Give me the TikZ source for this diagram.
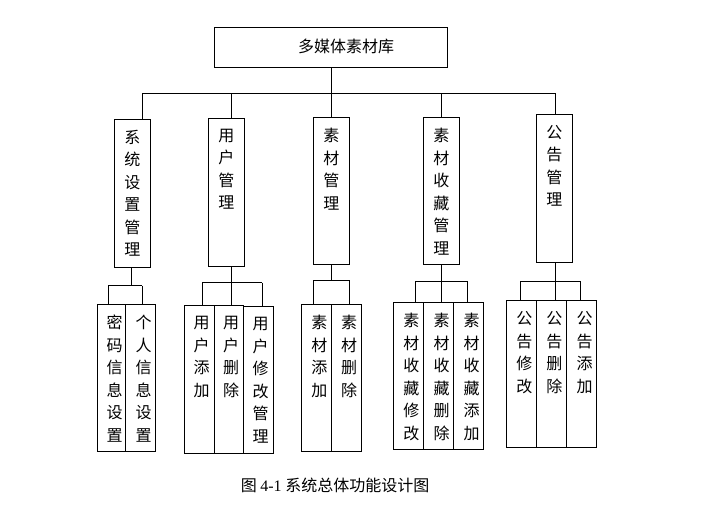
\documentclass[tikz,border=0pt]{standalone}
\usepackage{fontspec}
\newfontfamily\cjk{Noto Sans CJK SC}
\newfontfamily\latinserif{Liberation Serif}
\usetikzlibrary{fit}
\tikzset{
  boxst/.style={draw, line width=0.9pt, inner sep=0pt},
  vt/.style={align=center, inner sep=0pt, font=\cjk\fontsize{16}{22.5}\selectfont},
  conn/.style={line width=0.9pt},
}
\newcommand\cbox[7]{%
  \coordinate (#1-a) at (#2,#3);
  \coordinate (#1-b) at (#4,#5);
  \node[boxst, fit=(#1-a)(#1-b)] (#1) {};
  \node[vt, anchor=north] (#1-t) at ([yshift=-11pt,xshift=#7]#1.north) {#6};%
}
\begin{document}
\begin{tikzpicture}[x=1pt,y=-1pt]
\useasboundingbox (0,0) rectangle (714,512);
% root
\cbox{root}{214}{27}{447}{67}{}{0pt}
\node[vt] (root-text) at (346,46) {多媒体素材库};
% level 2
\cbox{b1}{114.3}{119.3}{150.3}{267.3}{系\\统\\设\\置\\管\\理}{0pt}
\cbox{b2}{208.3}{118.3}{244.3}{266.3}{用\\户\\管\\理}{0pt}
\cbox{b3}{313.3}{117.3}{349.3}{264.3}{素\\材\\管\\理}{0pt}
\cbox{b4}{423.3}{117.3}{459.3}{264.3}{素\\材\\收\\藏\\管\\理}{0pt}
\cbox{b5}{536.3}{114.3}{572.3}{262.3}{公\\告\\管\\理}{0pt}
% leaves group 1
\cbox{l11}{97.7}{304.3}{125.7}{451}{密\\码\\信\\息\\设\\置}{3pt}
\cbox{l12}{125.7}{304.3}{155.3}{451}{个\\人\\信\\息\\设\\置}{3pt}
% group 2
\cbox{l21}{184.7}{305.7}{214.3}{453.3}{用\\户\\添\\加}{2pt}
\cbox{l22}{214.3}{305.7}{243.7}{453.3}{用\\户\\删\\除}{2pt}
\cbox{l23}{243.7}{306.7}{273.3}{453.3}{用\\户\\修\\改\\管\\理}{2pt}
% group 3
\cbox{l31}{301.3}{304.3}{331.3}{451.7}{素\\材\\添\\加}{3pt}
\cbox{l32}{331.3}{304.3}{361}{451.7}{素\\材\\删\\除}{3pt}
% group 4
\cbox{l41}{393.3}{302.3}{423.3}{449.3}{素\\材\\收\\藏\\修\\改}{3pt}
\cbox{l42}{423.3}{302.3}{453.7}{449.3}{素\\材\\收\\藏\\删\\除}{3pt}
\cbox{l43}{453.7}{302.3}{483.7}{449.3}{素\\材\\收\\藏\\添\\加}{3pt}
% group 5
\cbox{l51}{506.3}{300.7}{536.3}{447.3}{公\\告\\修\\改}{3pt}
\cbox{l52}{536.3}{300.7}{566.3}{447.3}{公\\告\\删\\除}{3pt}
\cbox{l53}{566.3}{300.7}{596.7}{447.3}{公\\告\\添\\加}{3pt}
% top bus
\coordinate (busL) at (142.3,93);
\coordinate (busR) at (555.3,93);
\coordinate (busM) at (331.3,93);
\draw[conn] (root.south -| busM) -- (busM);
\draw[conn] (busL) -- (busR);
\draw[conn] (busL) -- (busL |- b1.north);
\draw[conn] (231.3,93) coordinate (d2) -- (d2 |- b2.north);
\draw[conn] (busM) -- (busM |- b3.north);
\draw[conn] (441.3,93) coordinate (d4) -- (d4 |- b4.north);
\draw[conn] (busR) -- (busR |- b5.north);
% group 1 bracket
\coordinate (g1s) at (131.3,285.7);
\coordinate (g1l) at (108,285.7);
\coordinate (g1r) at (142.3,285.7);
\draw[conn] (g1s |- b1.south) -- (g1s);
\draw[conn] (g1l) -- (g1r);
\draw[conn] (g1l) -- (g1l |- l11.north);
\draw[conn] (g1r) -- (g1r |- l12.north);
% group 2
\coordinate (g2s) at (231.7,282.7);
\coordinate (g2l) at (202.3,282.7);
\coordinate (g2r) at (262.3,282.7);
\draw[conn] (g2s |- b2.south) -- (g2s |- l22.north);
\draw[conn] (g2l) -- (g2r);
\draw[conn] (g2l) -- (g2l |- l21.north);
\draw[conn] (g2r) -- (g2r |- l23.north);
% group 3
\coordinate (g3s) at (331.3,280.3);
\coordinate (g3l) at (313.3,280.3);
\coordinate (g3r) at (349.3,280.3);
\draw[conn] (g3s |- b3.south) -- (g3s);
\draw[conn] (g3l) -- (g3r);
\draw[conn] (g3l) -- (g3l |- l31.north);
\draw[conn] (g3r) -- (g3r |- l32.north);
% group 4
\coordinate (g4s) at (441.3,281.3);
\coordinate (g4l) at (415,281.3);
\coordinate (g4r) at (467.7,281.3);
\draw[conn] (g4s |- b4.south) -- (g4s |- l42.north);
\draw[conn] (g4l) -- (g4r);
\draw[conn] (g4l) -- (g4l |- l41.north);
\draw[conn] (g4r) -- (g4r |- l43.north);
% group 5
\coordinate (g5s) at (555.7,281.3);
\coordinate (g5l) at (520.3,281.3);
\coordinate (g5r) at (580.3,281.3);
\draw[conn] (g5s |- b5.south) -- (g5s |- l52.north);
\draw[conn] (g5l) -- (g5r);
\draw[conn] (g5l) -- (g5l |- l51.north);
\draw[conn] (g5r) -- (g5r |- l53.north);
% caption
\node[inner sep=0pt, font=\cjk\fontsize{16}{18}\selectfont] (cap) at (335,485) {图 {\latinserif 4-1} 系统总体功能设计图};
\end{tikzpicture}
\end{document}
